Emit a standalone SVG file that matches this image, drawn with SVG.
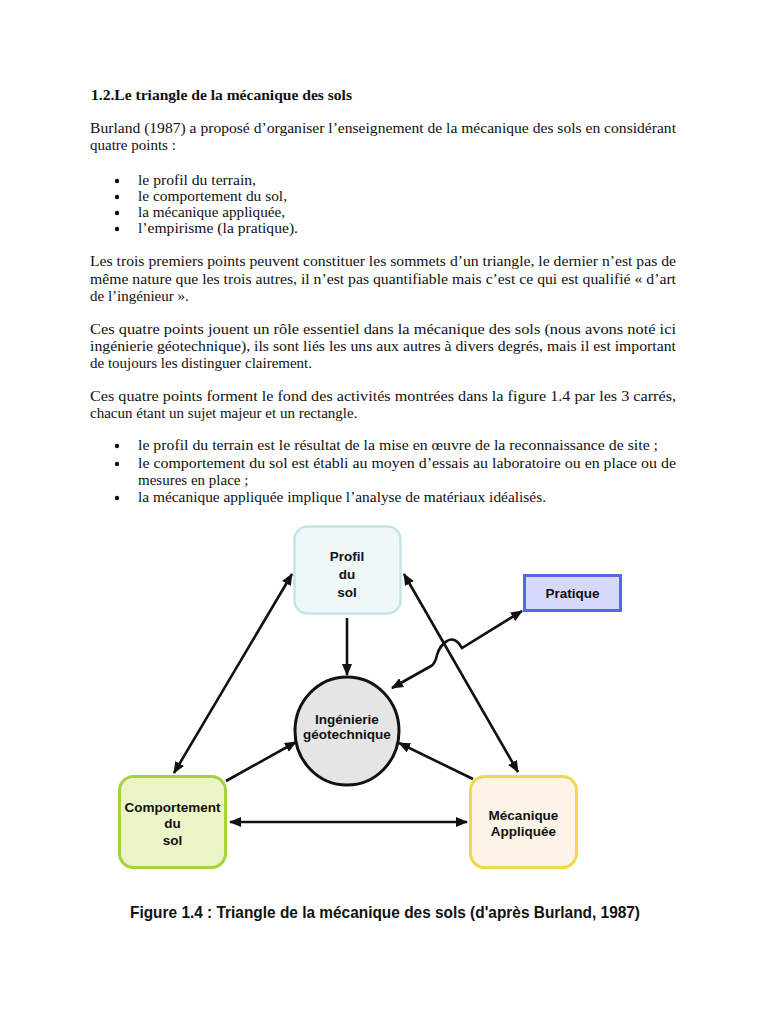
<svg xmlns="http://www.w3.org/2000/svg" width="768" height="1024" viewBox="0 0 768 1024">
<style>
.t{font-family:"Liberation Serif","Times New Roman",serif;font-size:15px;fill:#111}
.b{font-weight:bold;font-size:15.5px}
.n{font-family:"Liberation Sans",Arial,sans-serif;font-size:13.5px;font-weight:bold;fill:#111;text-anchor:middle}
.c{stroke:#111;stroke-width:2.6;fill:none}
</style>
<defs>
<marker id="ah" viewBox="0 0 12 10" refX="11" refY="5" markerWidth="12" markerHeight="10" markerUnits="userSpaceOnUse" orient="auto-start-reverse">
<path d="M0,0 L12,5 L0,10 Z" fill="#111"/>
</marker>
</defs>
<rect width="768" height="1024" fill="#fff"/>
<g id="text">
<text class="t b" x="91" y="100" textLength="261" lengthAdjust="spacingAndGlyphs">1.2.Le triangle de la mécanique des sols</text>
<text class="t" x="90" y="133" textLength="586" lengthAdjust="spacingAndGlyphs">Burland (1987) a proposé d’organiser l’enseignement de la mécanique des sols en considérant</text>
<text class="t" x="90" y="150">quatre points :</text>
<circle cx="117" cy="181" r="2.2" fill="#111"/>
<text class="t" x="138" y="185" textLength="118" lengthAdjust="spacingAndGlyphs">le profil du terrain,</text>
<circle cx="117" cy="197" r="2.2" fill="#111"/>
<text class="t" x="138" y="201" textLength="149" lengthAdjust="spacingAndGlyphs">le comportement du sol,</text>
<circle cx="117" cy="213" r="2.2" fill="#111"/>
<text class="t" x="138" y="217" textLength="147" lengthAdjust="spacingAndGlyphs">la mécanique appliquée,</text>
<circle cx="117" cy="229" r="2.2" fill="#111"/>
<text class="t" x="138" y="233" textLength="160" lengthAdjust="spacingAndGlyphs">l’empirisme (la pratique).</text>
<text class="t" x="90" y="266" textLength="586" lengthAdjust="spacingAndGlyphs">Les trois premiers points peuvent constituer les sommets d’un triangle, le dernier n’est pas de</text>
<text class="t" x="90" y="284" textLength="586" lengthAdjust="spacingAndGlyphs">même nature que les trois autres, il n’est pas quantifiable mais c’est ce qui est qualifié « d’art</text>
<text class="t" x="90" y="301">de l’ingénieur ».</text>
<text class="t" x="90" y="334" textLength="586" lengthAdjust="spacingAndGlyphs">Ces quatre points jouent un rôle essentiel dans la mécanique des sols (nous avons noté ici</text>
<text class="t" x="90" y="351" textLength="586" lengthAdjust="spacingAndGlyphs">ingénierie géotechnique), ils sont liés les uns aux autres à divers degrés, mais il est important</text>
<text class="t" x="90" y="368">de toujours les distinguer clairement.</text>
<text class="t" x="90" y="401" textLength="586" lengthAdjust="spacingAndGlyphs">Ces quatre points forment le fond des activités montrées dans la figure 1.4 par les 3 carrés,</text>
<text class="t" x="90" y="418">chacun étant un sujet majeur et un rectangle.</text>
<circle cx="117" cy="446" r="2.2" fill="#111"/>
<text class="t" x="138" y="450" textLength="520" lengthAdjust="spacingAndGlyphs">le profil du terrain est le résultat de la mise en œuvre de la reconnaissance de site ;</text>
<circle cx="117" cy="464" r="2.2" fill="#111"/>
<text class="t" x="138" y="468" textLength="538" lengthAdjust="spacingAndGlyphs">le comportement du sol est établi au moyen d’essais au laboratoire ou en place ou de</text>
<text class="t" x="138" y="485">mesures en place ;</text>
<circle cx="117" cy="498" r="2.2" fill="#111"/>
<text class="t" x="138" y="502" textLength="408" lengthAdjust="spacingAndGlyphs">la mécanique appliquée implique l’analyse de matériaux idéalisés.</text>
</g>
<g id="connectors">
<line class="c" x1="174" y1="773" x2="292" y2="574" marker-start="url(#ah)" marker-end="url(#ah)"/>
<line class="c" x1="404" y1="574" x2="518" y2="772" marker-start="url(#ah)" marker-end="url(#ah)"/>
<line class="c" x1="347" y1="618" x2="347" y2="675" marker-end="url(#ah)"/>
<line class="c" x1="226" y1="781" x2="296" y2="742" marker-end="url(#ah)"/>
<line class="c" x1="473" y1="779" x2="399" y2="743" marker-end="url(#ah)"/>
<line class="c" x1="230" y1="822" x2="467" y2="822" marker-start="url(#ah)" marker-end="url(#ah)"/>
<path class="c" d="M522,611 L462,648 Q455,636 447,641 Q440,645 437,655 Q435,664 431,666 L392,688" marker-start="url(#ah)" marker-end="url(#ah)"/>
</g>
<g id="profil">
<rect x="294.5" y="526.5" width="106" height="87" rx="13" fill="#eef8f9" stroke="#c5e4e6" stroke-width="2.5"/>
<text class="n" x="347" y="561">Profil</text>
<text class="n" x="347" y="579">du</text>
<text class="n" x="347" y="597">sol</text>
</g>
<g id="pratique">
<rect x="524.5" y="575.5" width="96" height="35" fill="#d5d9fb" stroke="#5865e4" stroke-width="3"/>
<text class="n" x="572.5" y="598">Pratique</text>
</g>
<g id="ingenierie">
<ellipse cx="347" cy="731" rx="52" ry="54" fill="#e5e5e5" stroke="#111" stroke-width="3"/>
<text class="n" x="347" y="724">Ingénierie</text>
<text class="n" x="347" y="739">géotechnique</text>
</g>
<g id="comportement">
<rect x="119.5" y="776.5" width="106" height="91" rx="14" fill="#ebf5c8" stroke="#a9d13e" stroke-width="3"/>
<text class="n" x="172.5" y="812">Comportement</text>
<text class="n" x="172.5" y="828">du</text>
<text class="n" x="172.5" y="845">sol</text>
</g>
<g id="mecanique">
<rect x="470.5" y="776.5" width="106" height="91" rx="14" fill="#fdf3e6" stroke="#f1d84c" stroke-width="3"/>
<text class="n" x="523.5" y="820">Mécanique</text>
<text class="n" x="523.5" y="836">Appliquée</text>
</g>
<g id="caption">
<text class="n" x="385" y="918" style="font-size:16.5px" textLength="510" lengthAdjust="spacingAndGlyphs">Figure 1.4 : Triangle de la mécanique des sols (d'après Burland, 1987)</text>
</g>
</svg>
